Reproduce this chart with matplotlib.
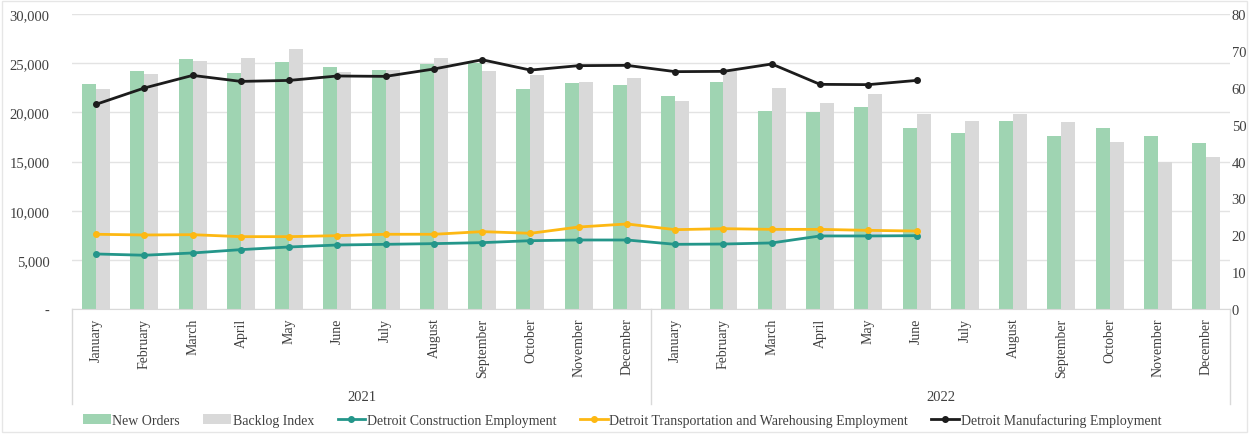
import matplotlib.pyplot as plt
from matplotlib.lines import Line2D
from matplotlib.patches import Rectangle
import numpy as np

# data
months = ["January", "February", "March", "April", "May", "June", "July", "August",
          "September", "October", "November", "December"] * 2
years = ["2021", "2022"]

new_orders = [22890, 24240, 25420, 24040, 25080, 24640, 24300, 24920, 25020, 22380, 23020, 22790,
              21630, 23060, 20150, 20010, 20590, 18390, 17920, 19170, 17620, 18390, 17620, 16840]
backlog_index = [59.7, 63.8, 67.3, 68.1, 70.4, 64.4, 64.8, 68.1, 64.6, 63.4, 61.7, 62.7,
                 56.3, 64.6, 59.9, 55.8, 58.4, 53.0, 51.1, 53.0, 50.7, 45.2, 39.8, 41.2]
construction = [5610, 5480, 5710, 6050, 6320, 6520, 6590, 6660, 6760, 6960, 7030, 7030,
                6590, 6620, 6730, 7440, 7440, 7470]
transportation = [7610, 7540, 7570, 7370, 7370, 7470, 7610, 7610, 7880, 7710, 8350, 8660,
                  8080, 8180, 8110, 8110, 8010, 7940]
manufacturing = [20820, 22480, 23760, 23150, 23250, 23700, 23660, 24410, 25350, 24300, 24750, 24780,
                 24140, 24170, 24920, 22850, 22820, 23250]

GREEN = "#9fd4b2"
GREY = "#d9d9d9"
TEAL = "#24968a"
YELLOW = "#fdb813"
BLACK = "#1c1c1c"

plt.rcParams["font.family"] = ["Liberation Serif", "DejaVu Serif"]
plt.rcParams["font.size"] = 10
plt.rcParams["text.color"] = "#404040"

fig = plt.figure(figsize=(12.49, 4.35), dpi=100)
ax = fig.add_axes([0.0576, 0.287, 0.9274, 0.6785])
ax2 = ax.twinx()

x = np.arange(len(months))
w = 0.29
bars1 = ax.bar(x - w / 2, new_orders, width=w, color=GREEN, zorder=2, label="New Orders")
bars2 = ax2.bar(x + w / 2, backlog_index, width=w, color=GREY, zorder=2, label="Backlog Index")

# lines sit on ax2 (so they draw above the bars) but in left-axis units
scale = 80 / 30000
xl = np.arange(len(construction))
l1, = ax2.plot(xl, np.array(construction) * scale, color=TEAL, lw=2, marker="o", ms=4, zorder=3,
               label="Detroit Construction Employment")
l2, = ax2.plot(xl, np.array(transportation) * scale, color=YELLOW, lw=2, marker="o", ms=4, zorder=3,
               label="Detroit Transportation and Warehousing Employment")
l3, = ax2.plot(xl, np.array(manufacturing) * scale, color=BLACK, lw=2, marker="o", ms=4, zorder=3,
               label="Detroit Manufacturing Employment")

ax.set_xlim(-0.5, len(months) - 0.5)
ax.set_ylim(0, 30000)
ax2.set_ylim(0, 80)
ax.set_yticks(range(0, 30001, 5000))
ax.set_yticklabels(["-"] + [f"{v:,}" for v in range(5000, 30001, 5000)])
ax2.set_yticks(range(0, 81, 10))
ax.grid(axis="y", color="#e3e3e3", lw=1, zorder=0)
ax.set_axisbelow(True)

for a in (ax, ax2):
    for s in a.spines.values():
        s.set_visible(False)
    a.tick_params(axis="y", length=0, labelsize=10.5, colors="#404040")
ax.tick_params(axis="y", pad=16)
ax2.tick_params(axis="y", pad=1)
ax.spines["bottom"].set_visible(True)
ax.spines["bottom"].set_color("#d9d9d9")

ax.set_xticks(x)
ax.set_xticklabels(months, rotation=90, va="top", ha="center", fontsize=10)
ax.tick_params(axis="x", length=0, pad=6, colors="#404040")

# year group separators and labels
trans = ax.get_xaxis_transform()
for xs in (-0.5, 11.5, 23.5):
    ax.add_line(Line2D([xs, xs], [0, -0.32], transform=trans, color="#d9d9d9", lw=1, clip_on=False))
for i, yr in enumerate(years):
    ax.text(5.5 + 12 * i, -0.295, yr, transform=trans, ha="center", va="center", fontsize=10.5)

fig.legend([bars1, bars2, l1, l2, l3],
           ["New Orders", "Backlog Index", "Detroit Construction Employment",
            "Detroit Transportation and Warehousing Employment", "Detroit Manufacturing Employment"],
           loc="center", bbox_to_anchor=(0.498, 0.032), ncol=5, frameon=False,
           fontsize=10, handlelength=2.0, handletextpad=0.1, columnspacing=1.7)

fig.add_artist(Rectangle((0.002, 0.005), 0.996, 0.99, transform=fig.transFigure, fill=False,
                         edgecolor="#e6e6e6", lw=1))

fig.savefig("out.png", dpi=100)
